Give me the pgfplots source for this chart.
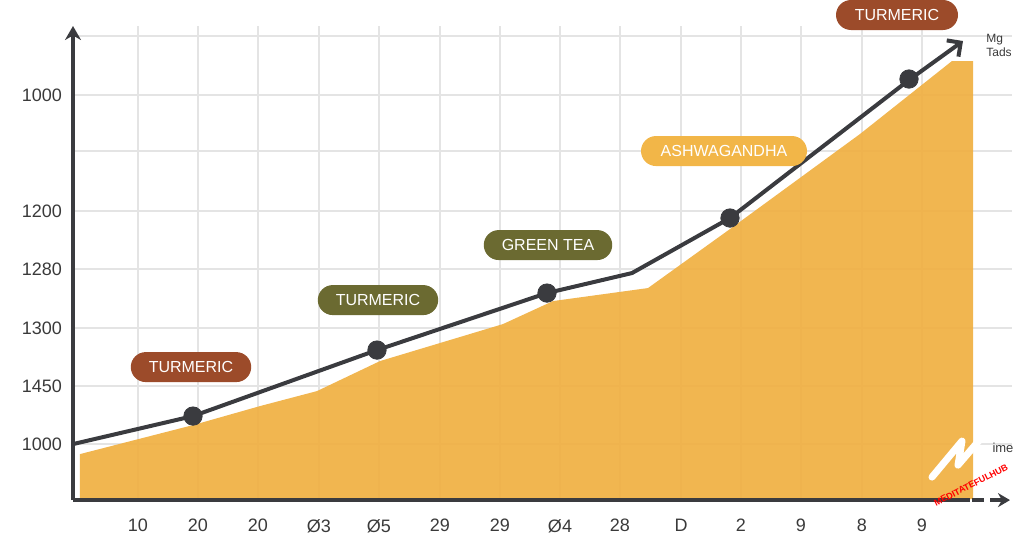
\documentclass[border=0pt]{standalone}
\usepackage{pgfplots}
\pgfplotsset{compat=1.18}
\usepackage{fontspec}
\setmainfont{Liberation Sans}
\usetikzlibrary{arrows.meta}

\definecolor{areaor}{HTML}{F0B043}
\definecolor{linec}{HTML}{3A3B3F}
\definecolor{gridc}{HTML}{E4E4E4}
\definecolor{tickc}{HTML}{3A3A3A}
\definecolor{brownbox}{HTML}{9C4B2A}
\definecolor{olivebox}{HTML}{6B6A31}
\definecolor{orbox}{HTML}{F2B648}

\tikzset{boxlab/.style={rounded corners=7.5pt, minimum height=15pt, inner xsep=9pt,
    font=\fontsize{8}{9}\selectfont, text=white}}

\begin{document}
\begin{tikzpicture}
\begin{axis}[
  scale only axis, width=469.5pt, height=237pt,
  xmin=73, xmax=1012, ymin=37, ymax=511,
  axis lines=left,
  x axis line style={draw=none},
  y axis line style={draw=linec, line width=2pt, -{Stealth[length=7pt,width=8pt]}},
  clip=false,
  xtick={138,198,258,319,379,440,500,560,620,681,741,801,862,922},
  xticklabels={10,20,20,Ø3,Ø5,29,29,Ø4,28,D,2,9,8,9},
  ytick={93,151,209,268,326,386,442,501},
  yticklabels={1000,1450,1300,1280,1200,,1000,},
  major tick length=0pt,
  grid=major, grid style={gridc, line width=0.6pt},
  tick label style={font=\fontsize{9}{10}\selectfont, text=tickc},
  /pgf/number format/assume math mode=true,
  xticklabel style={yshift=-6pt},
  yticklabel style={xshift=-2pt},
]
% area
\addplot[fill=areaor, fill opacity=0.93, draw=none] coordinates {
  (80,38) (80,83) (193,112) (260,131) (317,146) (380,176) (503,213)
  (553,236) (648,249) (730,308) (860,403) (952,476) (973,476) (973,38)
} -- cycle;
% x axis line
\draw[linec, line width=2pt] (axis cs:73,37) -- (axis cs:970,37);
\draw[linec, line width=2pt] (axis cs:972,37) -- (axis cs:984,37);
\draw[linec, line width=2pt, -{Stealth[length=6pt,width=7pt]}] (axis cs:990,37) -- (axis cs:1010,37);
% trend line
\addplot[linec, line width=2pt, -{Straight Barb[length=5pt,width=10pt,line width=2pt]}] coordinates {
  (73,93) (193,121) (377,187) (547,244) (632,264) (730,319) (909,457) (963,496)
};
\addplot[only marks, mark=*, mark size=4.6pt, color=linec] coordinates {
  (193,121) (377,187) (547,244) (730,319) (909,458)
};
% labels
\node[boxlab, fill=brownbox, minimum width=60pt] at (axis cs:191,170) {TURMERIC};
\node[boxlab, fill=olivebox, minimum width=60pt] at (axis cs:378,237) {TURMERIC};
\node[boxlab, fill=olivebox, minimum width=63pt] at (axis cs:548,292) {GREEN TEA};
\node[boxlab, fill=orbox, minimum width=83pt] at (axis cs:724,386) {ASHWAGANDHA};
\node[boxlab, fill=brownbox, minimum width=61pt] at (axis cs:897,522) {TURMERIC};
% side notes
\node[font=\fontsize{6}{7}\selectfont, text=tickc, align=left] at (axis cs:999,492) {Mg\\Tads};
\node[font=\fontsize{6.5}{7}\selectfont, text=tickc] at (axis cs:1003,89) {ime};
% watermark
\draw[white, line width=3.5pt, line join=round, line cap=round] (axis cs:932,60) -- (axis cs:962,96) -- (axis cs:958,72) -- (axis cs:982,100);
\node[rotate=27, font=\bfseries\fontsize{4.5}{5}\selectfont, text=red] at (axis cs:971,52) {MEDITATEFULHUB};
% bounding box
\path (axis cs:0,0) rectangle (axis cs:1024,536);
\end{axis}
\end{tikzpicture}
\end{document}
